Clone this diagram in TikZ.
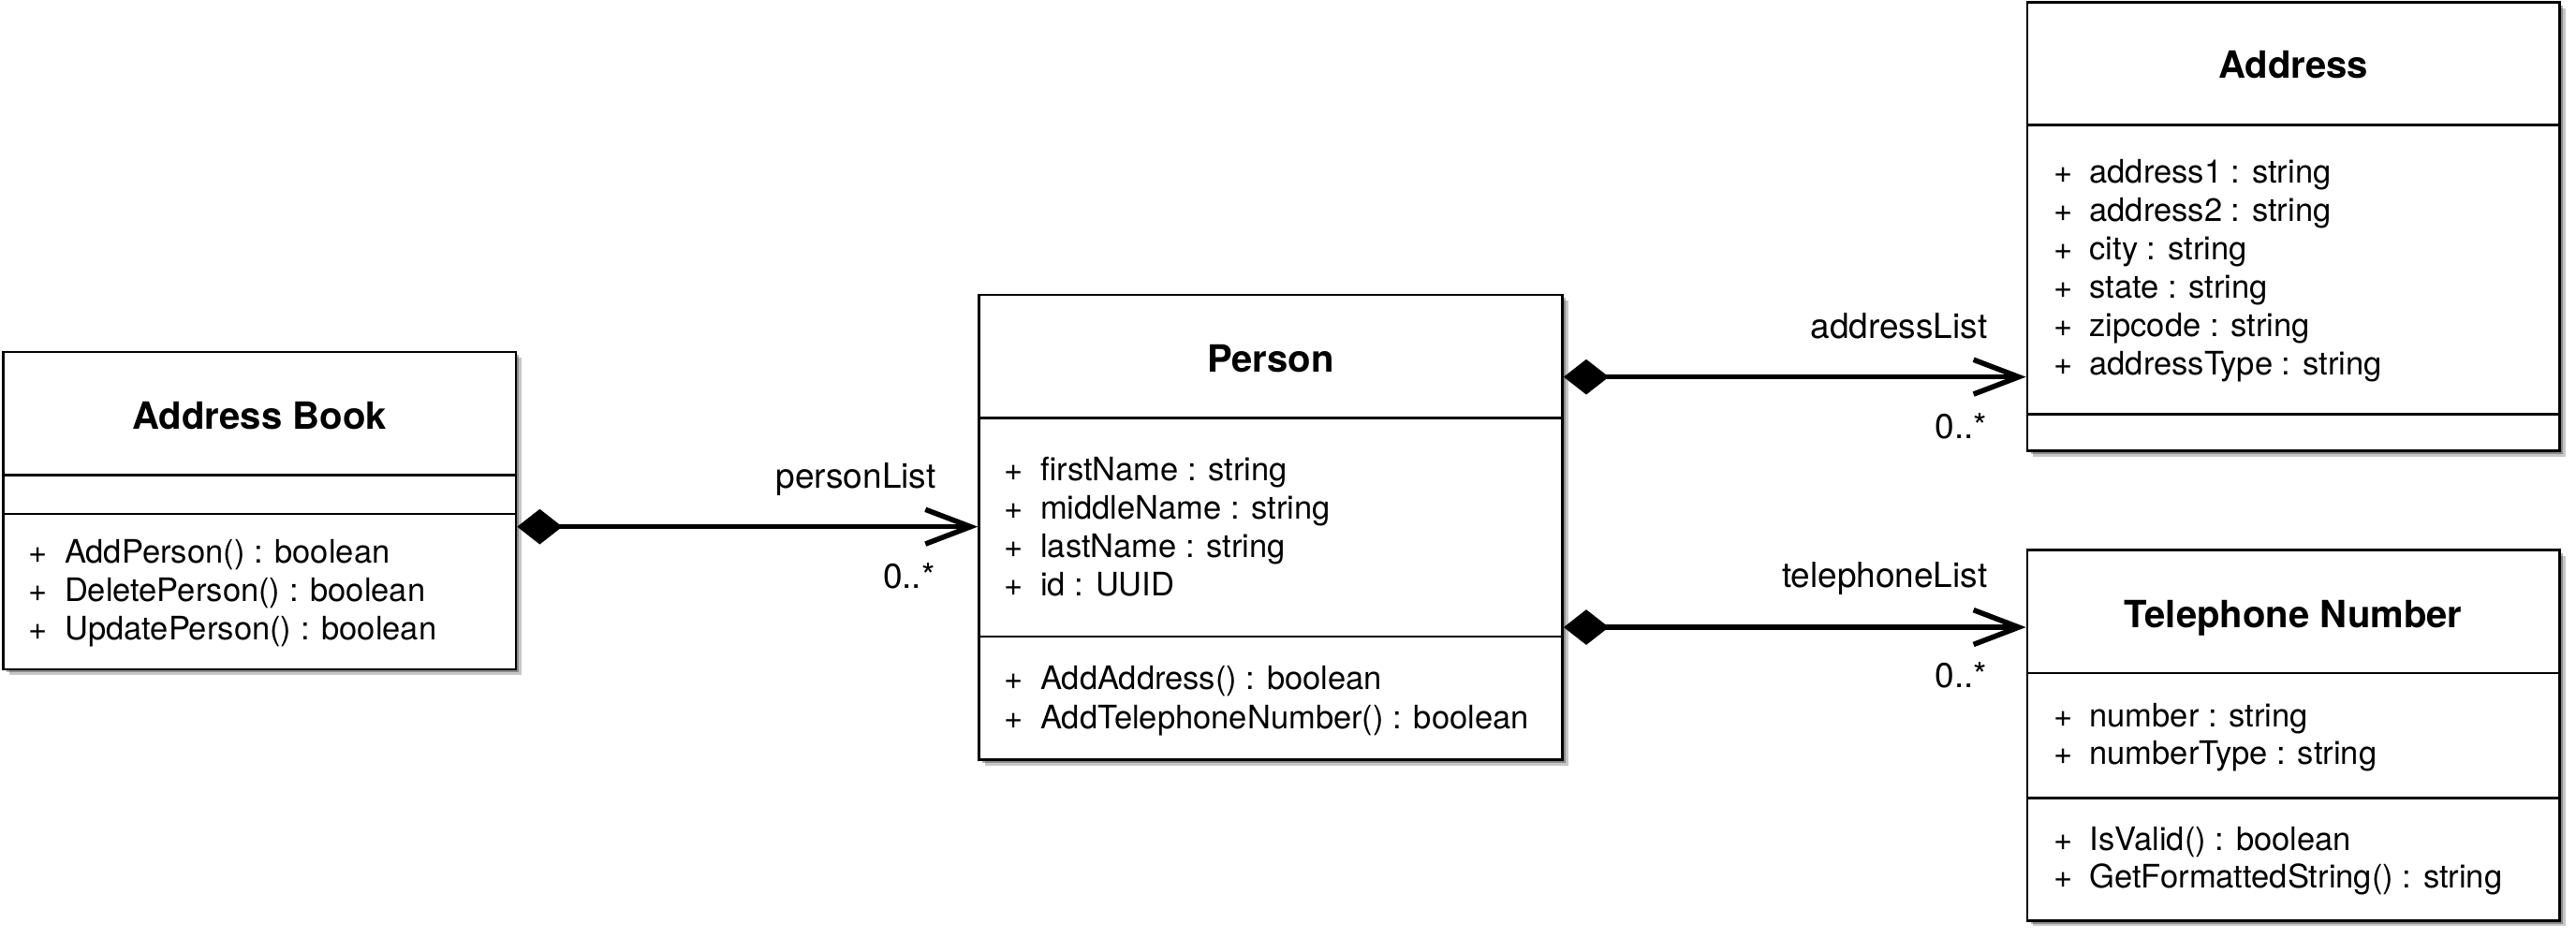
\documentclass[tikz,border=0pt]{standalone}
\usepackage{fontspec}
\setmainfont{TeX Gyre Heros}
\usepackage{tikz}
\usetikzlibrary{arrows.meta,fit,shadows}
\tikzset{
  classbox/.style = {draw=black, line width=0.9pt, fill=white, inner sep=0pt,
    drop shadow={shadow xshift=0.07cm, shadow yshift=-0.07cm, fill=black, opacity=0.22},
    drop shadow={shadow xshift=0.04cm, shadow yshift=-0.04cm, fill=black, opacity=0.3}},% boite de classe
  divider/.style = {line width=0.9pt},% separation des compartiments
  classname/.style = {font=\fontsize{13}{15}\selectfont\bfseries, inner sep=0pt, anchor=base},
  member/.style = {font=\fontsize{11.2}{13}\selectfont, inner sep=0pt, anchor=base west},
  rolename/.style = {font=\fontsize{12}{14}\selectfont, inner sep=0pt, anchor=base east},
  compo/.style = {line width=1.8pt,
    {Diamond[length=0.55cm,width=0.43cm]}-{Straight Barb[length=0.55cm,width=0.42cm]}}% composition
}
\newcommand{\mbr}[1]{\makebox[0.44cm][l]{+}#1}

\begin{document}
\begin{tikzpicture}[x=0.02cm,y=-0.02cm]
    \useasboundingbox (0,0) rectangle (1568,571);
    % classes
    \node[classbox, fit={(2,214.3) (314,407.5)}] (book) {};
    \node[classbox, fit={(596,179.5) (951,462.6)}] (person) {};
    \node[classbox, fit={(1234,1.5) (1558,274.5)}] (address) {};
    \node[classbox, fit={(1234,335) (1558,560.4)}] (phone) {};
    \foreach \n/\y in {book/289.3, book/312.9, person/254.6, person/387.6,
                       address/76, address/252, phone/409.8, phone/485.7}
        \draw[divider] (\n.west |- 0,\y) -- (\n.east |- 0,\y);

    \node[classname] (book-title) at (book.north |- 0,261.2) {Address Book};
    \node[classname] (person-title) at (person.north |- 0,226.5) {Person};
    \node[classname] (address-title) at (address.north |- 0,47.5) {Address};
    \node[classname] (phone-title) at (phone.north |- 0,381.9) {Telephone Number};

    \foreach \t [count=\i from 0] in {AddPerson() : boolean, DeletePerson() : boolean,
                                      UpdatePerson() : boolean}
        \node[member] (book-op\i) at (17,343+23.3*\i) {\mbr{\t}};
    \foreach \t [count=\i from 0] in {firstName : string, middleName : string,
                                      lastName : string, id : UUID}
        \node[member] (person-attr\i) at (611,292.5+23.47*\i) {\mbr{\t}};
    \foreach \t [count=\i from 0] in {AddAddress() : boolean, AddTelephoneNumber() : boolean}
        \node[member] (person-op\i) at (611,419.9+23.6*\i) {\mbr{\t}};
    \foreach \t [count=\i from 0] in {address1 : string, address2 : string, city : string,
                                      state : string, zipcode : string, addressType : string}
        \node[member] (address-attr\i) at (1249.6,111.7+23.36*\i) {\mbr{\t}};
    \foreach \t [count=\i from 0] in {number : string, numberType : string}
        \node[member] (phone-attr\i) at (1249.6,442.7+22.8*\i) {\mbr{\t}};
    \foreach \t [count=\i from 0] in {IsValid() : boolean, GetFormattedString() : string}
        \node[member] (phone-op\i) at (1249.6,517.7+22.8*\i) {\mbr{\t}};

    % associations
    \draw[compo] (book.east |- 0,320.7) -- (person.west |- 0,320.7)
        node[rolename, pos=1, xshift=-0.48cm, yshift=0.47cm] (book-role) {personList}
        node[rolename, pos=1, xshift=-0.49cm, yshift=-0.75cm] (book-mult) {0..*};
    \draw[compo] (person.east |- 0,229.5) -- (address.west |- 0,229.5)
        node[rolename, pos=1, xshift=-0.44cm, yshift=0.47cm] (address-role) {addressList}
        node[rolename, pos=1, xshift=-0.44cm, yshift=-0.75cm] (address-mult) {0..*};
    \draw[compo] (person.east |- 0,381.9) -- (phone.west |- 0,381.9)
        node[rolename, pos=1, xshift=-0.44cm, yshift=0.48cm] (phone-role) {telephoneList}
        node[rolename, pos=1, xshift=-0.44cm, yshift=-0.73cm] (phone-mult) {0..*};
\end{tikzpicture}
\end{document}
